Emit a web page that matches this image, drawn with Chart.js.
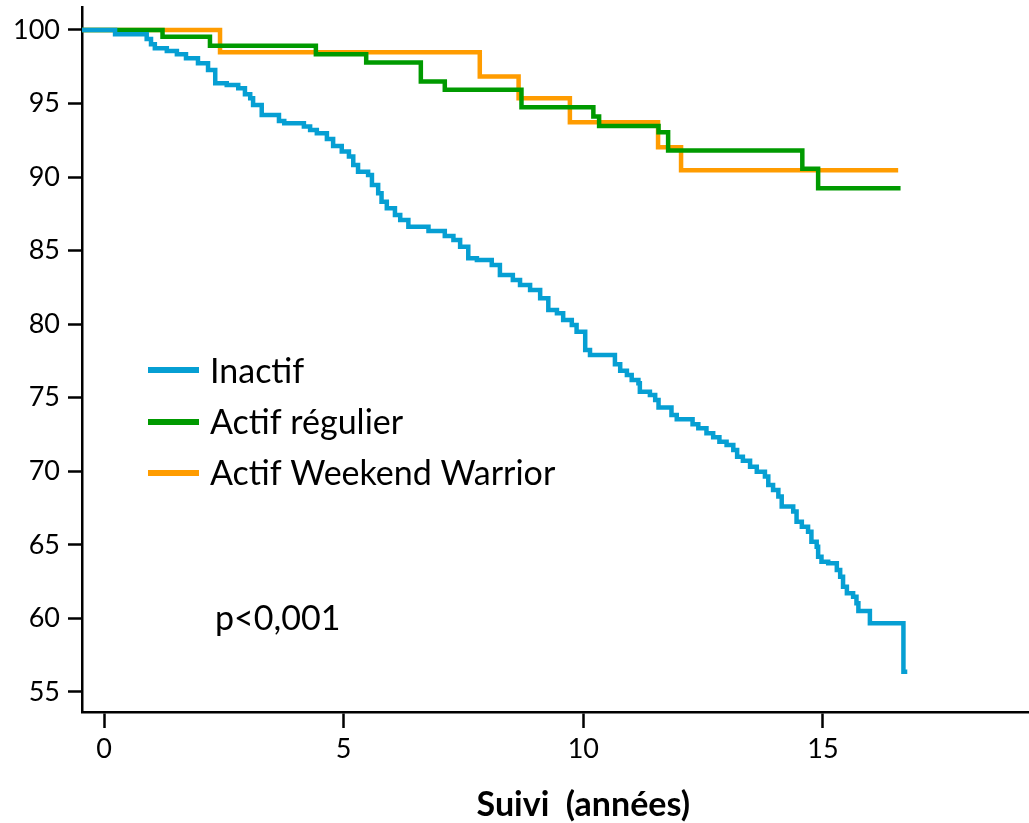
<!DOCTYPE html>
<html lang="fr">
<head>
<meta charset="utf-8">
<title>Survie selon le niveau d'activité physique</title>
<script src="https://cdn.jsdelivr.net/npm/chart.js@4.4.1/dist/chart.umd.min.js"></script>
<style>
  html, body { margin: 0; padding: 0; background: #fff; }
  #wrap { width: 1029px; height: 823px; }
</style>
</head>
<body>
<div id="wrap"><canvas id="chart-km" width="1029" height="823"></canvas></div>
<script>
// Courbes de Kaplan-Meier : temps (années) de chaque événement et survie (%) juste après.
// Le dernier point de chaque série = fin du suivi (pas de chute).
const inactifTemps = [0, 0.23, 0.89, 0.98, 1.06, 1.31, 1.52, 1.71, 1.96, 2.17, 2.32, 2.56, 2.80, 2.94, 3.05, 3.11,
  3.29, 3.65, 3.76, 4.17, 4.30, 4.44, 4.65, 4.78, 4.96, 5.11, 5.20, 5.30, 5.51, 5.59, 5.72, 5.79, 5.90, 6.07,
  6.18, 6.35, 6.77, 7.11, 7.29, 7.43, 7.60, 7.78, 8.09, 8.26, 8.53, 8.68, 8.89, 9.10, 9.27, 9.45, 9.58, 9.76,
  9.86, 10.04, 10.14, 10.66, 10.77, 10.91, 11.01, 11.15, 11.18, 11.39, 11.50, 11.57, 11.84, 11.95, 12.28, 12.40,
  12.57, 12.71, 12.84, 12.99, 13.13, 13.21, 13.33, 13.48, 13.62, 13.79, 13.86, 13.96, 14.07, 14.14, 14.38, 14.45,
  14.56, 14.69, 14.76, 14.87, 14.90, 14.97, 15.11, 15.29, 15.36, 15.42, 15.50, 15.63, 15.70, 15.74, 15.98, 16.68,
  16.76];
const inactifSurvie = [100, 99.71, 99.39, 99.03, 98.76, 98.57, 98.35, 98.08, 97.74, 97.28, 96.38, 96.26, 96.04,
  95.63, 95.36, 94.90, 94.22, 93.81, 93.66, 93.43, 93.20, 92.98, 92.59, 92.11, 91.73, 91.39, 90.82, 90.37, 90.14,
  89.46, 88.90, 88.33, 87.88, 87.42, 87.08, 86.63, 86.34, 86.00, 85.72, 85.27, 84.48, 84.37, 84.03, 83.35, 83.01,
  82.67, 82.33, 81.76, 80.97, 80.74, 80.29, 79.95, 79.49, 78.25, 77.91, 77.28, 76.84, 76.55, 76.21, 75.98, 75.41,
  75.19, 74.85, 74.33, 73.83, 73.54, 73.20, 72.92, 72.58, 72.31, 72.01, 71.79, 71.45, 70.99, 70.72, 70.31, 69.97,
  69.64, 69.07, 68.73, 68.28, 67.60, 67.26, 66.58, 66.24, 65.90, 65.22, 64.88, 64.20, 63.86, 63.75, 63.29, 62.84,
  62.16, 61.71, 61.48, 61.03, 60.51, 59.67, 56.38, 56.38];

const regulierTemps = [0, 1.22, 2.21, 4.42, 5.47, 6.61, 7.11, 8.71, 10.21, 10.33, 11.57, 11.77, 14.57, 14.90, 16.62];
const regulierSurvie = [100, 99.54, 98.93, 98.35, 97.78, 96.49, 95.94, 94.75, 94.11, 93.47, 93.05, 91.80, 90.57, 89.24, 89.24];

const warriorTemps = [0, 2.42, 7.84, 8.65, 9.72, 11.56, 12.04, 16.57];
const warriorSurvie = [100, 98.48, 96.83, 95.36, 93.73, 92.03, 90.46, 90.46];

const xTicks = [0, 5, 10, 15];
const yTicks = [55, 60, 65, 70, 75, 80, 85, 90, 95, 100];

const SERIES = [
  { label: 'Inactif', temps: inactifTemps, survie: inactifSurvie, color: '#069fd3' },
  { label: 'Actif régulier', temps: regulierTemps, survie: regulierSurvie, color: '#009a00' },
  { label: 'Actif Weekend Warrior', temps: warriorTemps, survie: warriorSurvie, color: '#ff9c00' }
];

const X_MIN = -0.46, X_MAX = 19.3;
const Y_MIN = 53.64, Y_MAX = 101.56;
const FONT = 'Lato, "Open Sans", sans-serif';

// Dans l'original, le tracé démarre contre l'axe vertical : on prolonge le palier à 100 %.
function toPoints(s) {
  return [{ x: X_MIN, y: s.survie[0] }].concat(s.temps.map((t, i) => ({ x: t, y: s.survie[i] })));
}

// Légende, p-valeur et titre de l'axe X sont posés à la main (légende dans la zone de tracé).
const annotations = {
  id: 'kmAnnotations',
  afterDraw(chart) {
    const { ctx, scales } = chart;
    ctx.save();
    ctx.fillStyle = '#000';
    ctx.textBaseline = 'alphabetic';
    ctx.textAlign = 'left';
    ctx.font = '34px ' + FONT;
    const rows = [{ line: 370, base: 383 }, { line: 422, base: 434 }, { line: 473, base: 485 }];
    SERIES.forEach((s, i) => {
      ctx.strokeStyle = s.color;
      ctx.lineWidth = 6;
      ctx.beginPath();
      ctx.moveTo(148, rows[i].line);
      ctx.lineTo(199, rows[i].line);
      ctx.stroke();
      ctx.fillText(s.label, 210, rows[i].base);
    });
    ctx.fillText('p<0,001', 215, 630);

    ctx.font = 'bold 34px ' + FONT;
    ctx.textAlign = 'center';
    ctx.fillText('Suivi  (années)', scales.x.getPixelForValue(10), 816);
    ctx.restore();
  }
};

const axisCommon = {
  type: 'linear',
  grid: { drawOnChartArea: false, color: '#000', tickWidth: 2.5 },
  border: { color: '#000', width: 2.5 },
  ticks: { color: '#000', font: { family: FONT, size: 27 }, maxRotation: 0 }
};

new Chart(document.getElementById('chart-km'), {
  type: 'line',
  data: {
    datasets: SERIES.map(s => ({
      label: s.label,
      data: toPoints(s),
      borderColor: s.color,
      backgroundColor: s.color,
      borderWidth: 4.5,
      stepped: 'before',
      pointRadius: 0,
      fill: false,
      tension: 0
    }))
  },
  options: {
    responsive: false,
    animation: false,
    devicePixelRatio: 1,
    layout: { padding: { top: 7, right: 0, bottom: 0, left: 0 } },
    plugins: { legend: { display: false }, tooltip: { enabled: false } },
    scales: {
      x: {
        ...axisCommon,
        min: X_MIN,
        max: X_MAX,
        grid: { ...axisCommon.grid, tickLength: 16 },
        ticks: { ...axisCommon.ticks, padding: 5 },
        afterBuildTicks: s => { s.ticks = xTicks.map(v => ({ value: v })); },
        afterFit: s => { s.height = 111; s.paddingLeft = 0; s.paddingRight = 0; }
      },
      y: {
        ...axisCommon,
        min: Y_MIN,
        max: Y_MAX,
        grid: { ...axisCommon.grid, tickLength: 14 },
        ticks: { ...axisCommon.ticks, padding: 8 },
        afterBuildTicks: s => { s.ticks = yTicks.map(v => ({ value: v })); },
        afterFit: s => { s.width = 82; s.paddingTop = 0; s.paddingBottom = 0; }
      }
    }
  },
  plugins: [annotations]
});
</script>
</body>
</html>
